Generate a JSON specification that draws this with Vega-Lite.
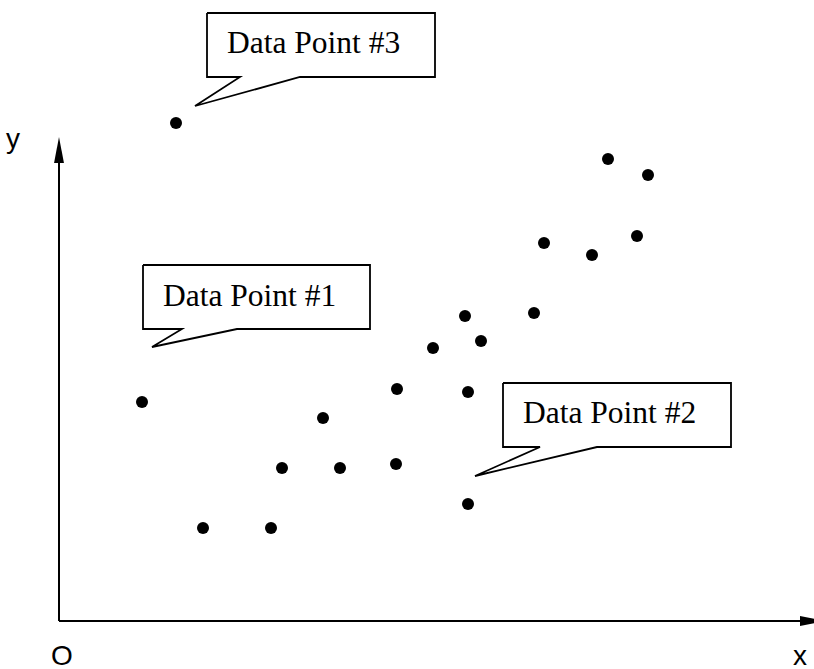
{
  "$schema": "https://vega.github.io/schema/vega-lite/v6.json",
  "width": 814,
  "height": 669,
  "padding": 0,
  "autosize": {"type": "none"},
  "background": "white",
  "config": {"view": {"stroke": null}},
  "datasets": {
    "points": [
      {"x": 23.4, "y": 99.6},
      {"x": 16.6, "y": 43.8},
      {"x": 28.8, "y": 18.6},
      {"x": 42.4, "y": 18.6},
      {"x": 44.6, "y": 30.6},
      {"x": 52.8, "y": 40.6},
      {"x": 56.2, "y": 30.6},
      {"x": 67.6, "y": 46.4},
      {"x": 67.4, "y": 31.4},
      {"x": 74.8, "y": 54.6},
      {"x": 81.2, "y": 61.0},
      {"x": 84.4, "y": 56.0},
      {"x": 81.8, "y": 45.8},
      {"x": 81.8, "y": 23.4},
      {"x": 95.0, "y": 61.6},
      {"x": 97.0, "y": 75.6},
      {"x": 106.6, "y": 73.2},
      {"x": 109.8, "y": 92.4},
      {"x": 117.8, "y": 89.2},
      {"x": 115.6, "y": 77.0}
    ],
    "axes": [
      {"x": 0, "y": 0, "x2": 148.2, "y2": 0},
      {"x": 0, "y": 0, "x2": 0, "y2": 94.2}
    ],
    "callouts": [
      {"id": "c3", "k": 0, "x": 29.6, "y": 121.6},
      {"id": "c3", "k": 1, "x": 75.2, "y": 121.6},
      {"id": "c3", "k": 2, "x": 75.2, "y": 108.8},
      {"id": "c3", "k": 3, "x": 48.2, "y": 108.8},
      {"id": "c3", "k": 4, "x": 27.2, "y": 103.0},
      {"id": "c3", "k": 5, "x": 36.2, "y": 108.8},
      {"id": "c3", "k": 6, "x": 29.6, "y": 108.8},
      {"id": "c3", "k": 7, "x": 29.6, "y": 121.6},
      {"id": "c1", "k": 0, "x": 16.8, "y": 71.2},
      {"id": "c1", "k": 1, "x": 62.2, "y": 71.2},
      {"id": "c1", "k": 2, "x": 62.2, "y": 58.4},
      {"id": "c1", "k": 3, "x": 35.6, "y": 58.4},
      {"id": "c1", "k": 4, "x": 18.6, "y": 54.8},
      {"id": "c1", "k": 5, "x": 24.6, "y": 58.4},
      {"id": "c1", "k": 6, "x": 16.8, "y": 58.4},
      {"id": "c1", "k": 7, "x": 16.8, "y": 71.2},
      {"id": "c2", "k": 0, "x": 88.8, "y": 47.6},
      {"id": "c2", "k": 1, "x": 134.4, "y": 47.6},
      {"id": "c2", "k": 2, "x": 134.4, "y": 34.8},
      {"id": "c2", "k": 3, "x": 107.6, "y": 34.8},
      {"id": "c2", "k": 4, "x": 83.2, "y": 29.0},
      {"id": "c2", "k": 5, "x": 96.2, "y": 34.8},
      {"id": "c2", "k": 6, "x": 88.8, "y": 34.8},
      {"id": "c2", "k": 7, "x": 88.8, "y": 47.6}
    ],
    "labels": [
      {"x": 33.6, "y": 113.6, "text": "Data Point #3"},
      {"x": 20.8, "y": 63.0, "text": "Data Point #1"},
      {"x": 92.8, "y": 39.6, "text": "Data Point #2"}
    ],
    "axislabels": [
      {"x": -9.2, "y": 94.6, "text": "y", "al": "left"},
      {"x": 0.6, "y": -8.8, "text": "O", "al": "center"},
      {"x": 148.2, "y": -8.8, "text": "x", "al": "left"}
    ]
  },
  "encoding": {
    "x": {"field": "x", "type": "quantitative", "scale": {"domain": [-11.8, 151], "nice": false, "zero": false}, "axis": null},
    "y": {"field": "y", "type": "quantitative", "scale": {"domain": [-9.6, 124.2], "nice": false, "zero": false}, "axis": null}
  },
  "layer": [
    {
      "data": {"name": "axes"},
      "mark": {"type": "rule", "color": "black", "strokeWidth": 2},
      "encoding": {
        "x2": {"field": "x2"},
        "y2": {"field": "y2"}
      }
    },
    {
      "data": {"values": [{"x": 0, "y": 94.2}]},
      "mark": {"type": "point", "shape": "M0,-1L0.38,1L-0.38,1Z", "size": 676, "filled": true, "color": "black", "opacity": 1, "strokeWidth": 0}
    },
    {
      "data": {"values": [{"x": 150.8, "y": 0}]},
      "mark": {"type": "point", "shape": "M1,0L-1,-0.38L-1,0.38Z", "size": 676, "filled": true, "color": "black", "opacity": 1, "strokeWidth": 0}
    },
    {
      "data": {"name": "points"},
      "mark": {"type": "point", "shape": "circle", "size": 145, "filled": true, "color": "black", "opacity": 1, "strokeWidth": 0}
    },
    {
      "data": {"name": "callouts"},
      "mark": {"type": "line", "color": "black", "strokeWidth": 1.8, "strokeJoin": "miter"},
      "encoding": {
        "detail": {"field": "id"},
        "order": {"field": "k", "type": "quantitative"}
      }
    },
    {
      "data": {"name": "labels"},
      "mark": {"type": "text", "align": "left", "baseline": "alphabetic", "font": "Liberation Serif", "fontSize": 31.5, "color": "black"},
      "encoding": {"text": {"field": "text"}}
    },
    {
      "data": {"name": "axislabels"},
      "mark": {"type": "text", "baseline": "alphabetic", "font": "Liberation Sans", "fontSize": 28, "color": "black"},
      "encoding": {
        "text": {"field": "text"},
        "align": {"field": "al", "scale": null}
      }
    }
  ]
}
